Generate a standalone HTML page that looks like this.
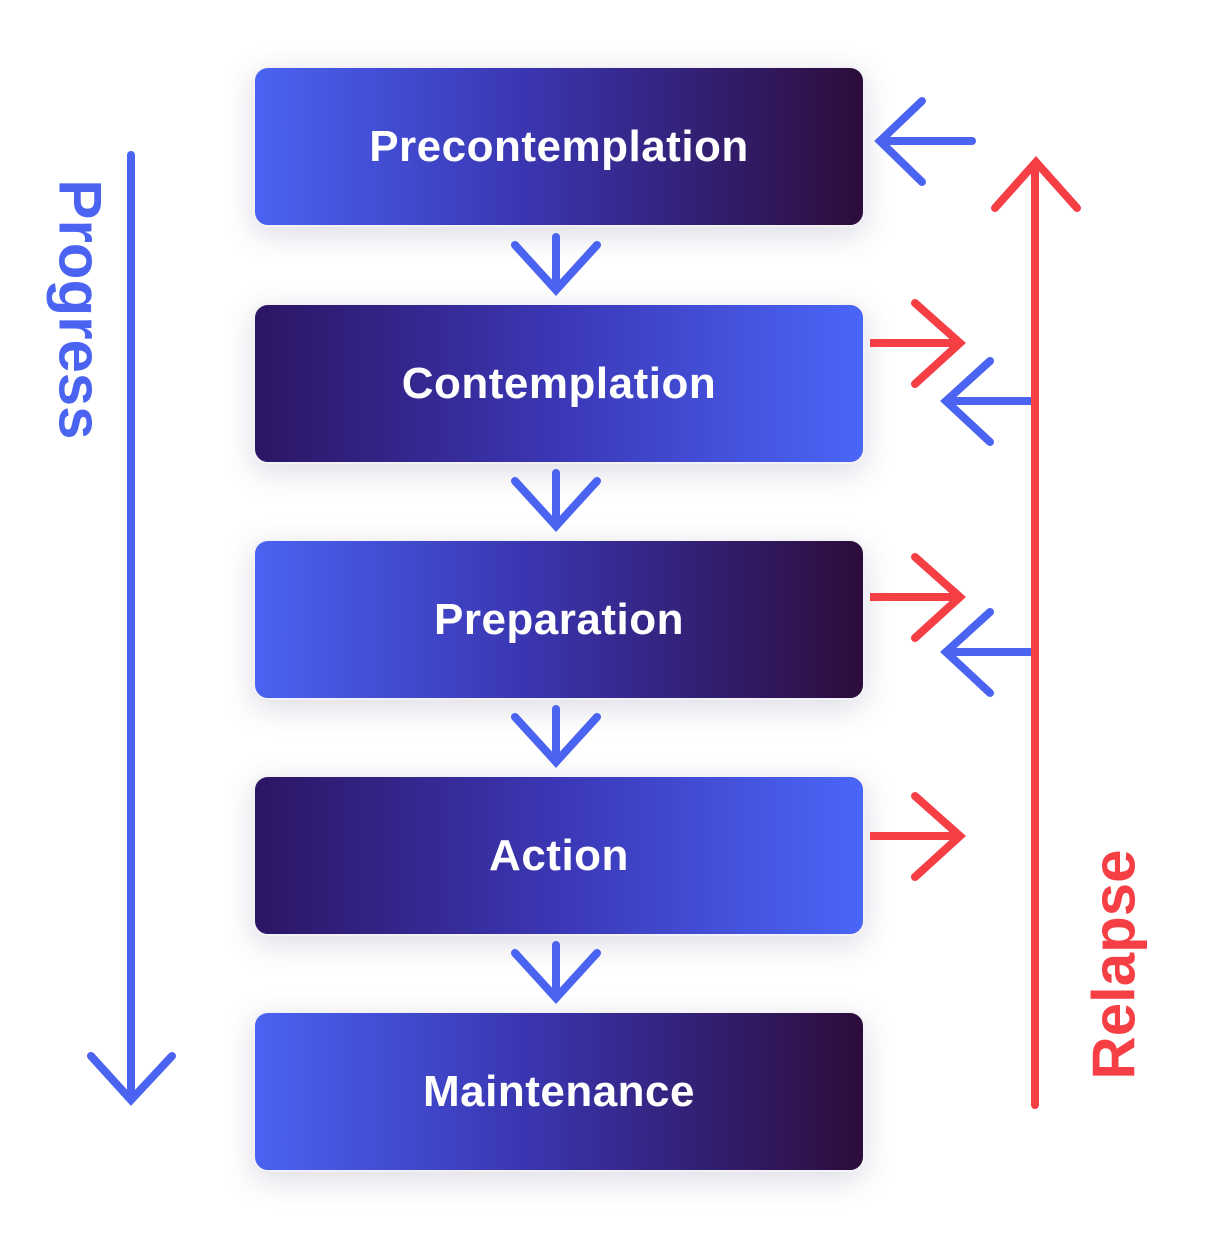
<!DOCTYPE html>
<html><head><style>
html,body{margin:0;padding:0;background:#fff;}
body{width:1210px;height:1252px;position:relative;overflow:hidden;font-family:"Liberation Sans",sans-serif;}
.box{position:absolute;left:253px;width:612px;height:161px;border-radius:15px;color:#fff;font-weight:bold;font-size:44px;display:flex;align-items:center;justify-content:center;box-shadow:0 8px 30px rgba(60,60,110,0.18);border:2px solid #f2f2f6;box-sizing:border-box;letter-spacing:0.5px;}
.a{background:linear-gradient(90deg,#4a63f2,#3a35b0 45%,#2c0c3a);}
.b{background:linear-gradient(90deg,#2c1563,#3b37b6 50%,#4a66f8);}
svg{position:absolute;left:0;top:0;}
.rot{position:absolute;font-weight:bold;font-size:60px;white-space:nowrap;}
</style></head><body>
<div class="box a" style="top:66px">Precontemplation</div>
<div class="box b" style="top:303px">Contemplation</div>
<div class="box a" style="top:539px">Preparation</div>
<div class="box b" style="top:775px">Action</div>
<div class="box a" style="top:1011px">Maintenance</div>
<div class="rot" style="color:#4a63f0;left:-80px;top:275px;transform:rotate(90deg);width:320px;text-align:center;">Progress</div>
<div class="rot" style="color:#f53f45;left:964px;top:930px;transform:rotate(-90deg);width:300px;text-align:center;">Relapse</div>
<svg width="1210" height="1252" fill="none" stroke-width="8" stroke-linecap="round" stroke-linejoin="miter">
<g stroke="#4a63f0">
<line x1="131" y1="155" x2="131" y2="1098"/>
<polyline points="91,1056 131,1100 172,1056"/>
<g id="dv"><line x1="556" y1="237" x2="556" y2="290"/><polyline points="515,245 556,290 597,245"/></g>
<line x1="556" y1="473" x2="556" y2="526"/><polyline points="515,481 556,526 597,481"/>
<line x1="556" y1="709" x2="556" y2="762"/><polyline points="515,717 556,762 597,717"/>
<line x1="556" y1="945" x2="556" y2="998"/><polyline points="515,953 556,998 597,953"/>
<line x1="972" y1="141" x2="880" y2="141"/><polyline points="922,101 880,141 922,182"/>
<line x1="1032" y1="401" x2="946" y2="401"/><polyline points="990,361 946,401 990,442"/>
<line x1="1032" y1="652" x2="946" y2="652"/><polyline points="990,612 946,652 990,693"/>
</g>
<g stroke="#f53f45">
<line x1="1035" y1="164" x2="1035" y2="1105"/>
<polyline points="995,208 1036,162 1077,208"/>
<line x1="870" y1="343" x2="960" y2="343" stroke-linecap="butt"/><polyline points="915,303 960,343 915,384"/>
<line x1="870" y1="597" x2="960" y2="597" stroke-linecap="butt"/><polyline points="915,557 960,597 915,638"/>
<line x1="870" y1="836" x2="960" y2="836" stroke-linecap="butt"/><polyline points="915,796 960,836 915,877"/>
</g>
</svg>
</body></html>
